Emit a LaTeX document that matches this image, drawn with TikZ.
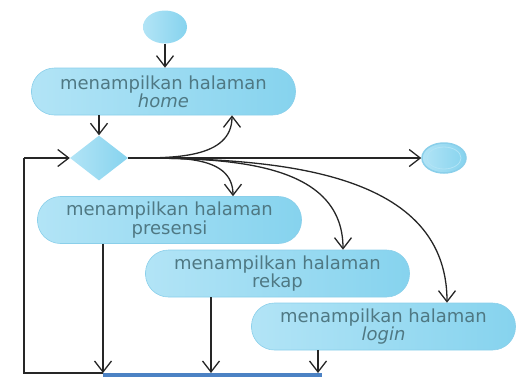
\documentclass[tikz,border=0pt]{standalone}
\usepackage{fontspec}
\usetikzlibrary{arrows.meta,shapes.geometric}
\newfontfamily\actfont{DejaVu Sans}
\definecolor{actlight}{HTML}{B2E4F6}
\definecolor{actfill}{HTML}{86D3EE}
\definecolor{actline}{HTML}{8ACFEA}
\definecolor{acttext}{HTML}{4F7883}
\definecolor{joinblue}{HTML}{4C82C4}
\tikzset{
  act/.style={rectangle, rounded corners=23pt, draw=actline, line width=0.6pt,
    left color=actlight, right color=actfill, text=acttext, inner sep=0pt,
    minimum width=264pt, minimum height=47pt, align=center,
    font=\actfont\fontsize{18}{17}\selectfont},
  flow/.style={line width=1.3pt, black!85, -{Straight Barb[length=11pt,width=17pt,line width=1.3pt]}},
  link/.style={line width=1.3pt, black!85}
}
\begin{document}
\begin{tikzpicture}[x=1pt,y=-1pt]
		%%%%% START %%%%%
		\clip (0,0) rectangle (525,376);
		\useasboundingbox (0,0) rectangle (525,376);
		
		\node[ellipse, left color=actlight, right color=actfill, minimum width=44pt, minimum height=33pt, inner sep=0pt] (start) at (165,27) {};
		\node[act] (home) at (163.5,91.5) {menampilkan halaman\\\textit{home}};
		\node[diamond, aspect=1.3, left color=actlight, right color=actfill, minimum width=58pt, minimum height=45pt, inner sep=0pt] (dm) at (99,158) {};
		\node[ellipse, draw=actline, line width=1.5pt, left color=actlight, right color=actfill, minimum width=44pt, minimum height=30pt, inner sep=0pt] (stop) at (444,158) {};
		\node[ellipse, draw=actlight, line width=0.8pt, minimum width=34pt, minimum height=22pt] at (stop) {};
		
		\node[act] (pr) at (169.5,220) {menampilkan halaman\\presensi};
		\node[act] (rk) at (277.5,273.5) {menampilkan halaman\\rekap};
		\node[act] (lg) at (383.5,326.5) {menampilkan halaman\\\textit{login}};
		
		\node[rectangle, fill=joinblue, minimum width=219pt, minimum height=8pt, inner sep=0pt, anchor=north west] (join) at (103,373) {};
		\coordinate (j1) at (103,373);
		\coordinate (j2) at (211,373);
		\coordinate (j3) at (318,373);
		\coordinate (back) at (24,158);
		
		\draw[flow] (start.south) -- (start.south |- home.north);
		\draw[flow] (home.south -| dm.north) -- (dm.north);
		
		\draw[flow] (dm.east) to[out=0,in=-90] (home.south -| 232,0);
		\draw[flow] (dm.east) to[out=0,in=90] (pr.north -| 233,0);
		\draw[flow] (dm.east) to[out=0,in=90] (rk.north -| 343,0);
		\draw[flow] (dm.east) to[out=0,in=90] (lg.north -| 447,0);
		\draw[flow] (dm.east) -- (stop.west);
		
		\draw[flow] (pr.south -| j1) -- (j1);
		\draw[flow] (rk.south -| j2) -- (j2);
		\draw[flow] (lg.south -| j3) -- (j3);
		
		\draw[link] (join.north west) -- (join.north west -| back) -- (back);
		\draw[flow] (back) -- (dm.west);
		%%%%% END %%%%%
	\end{tikzpicture}
\end{document}
